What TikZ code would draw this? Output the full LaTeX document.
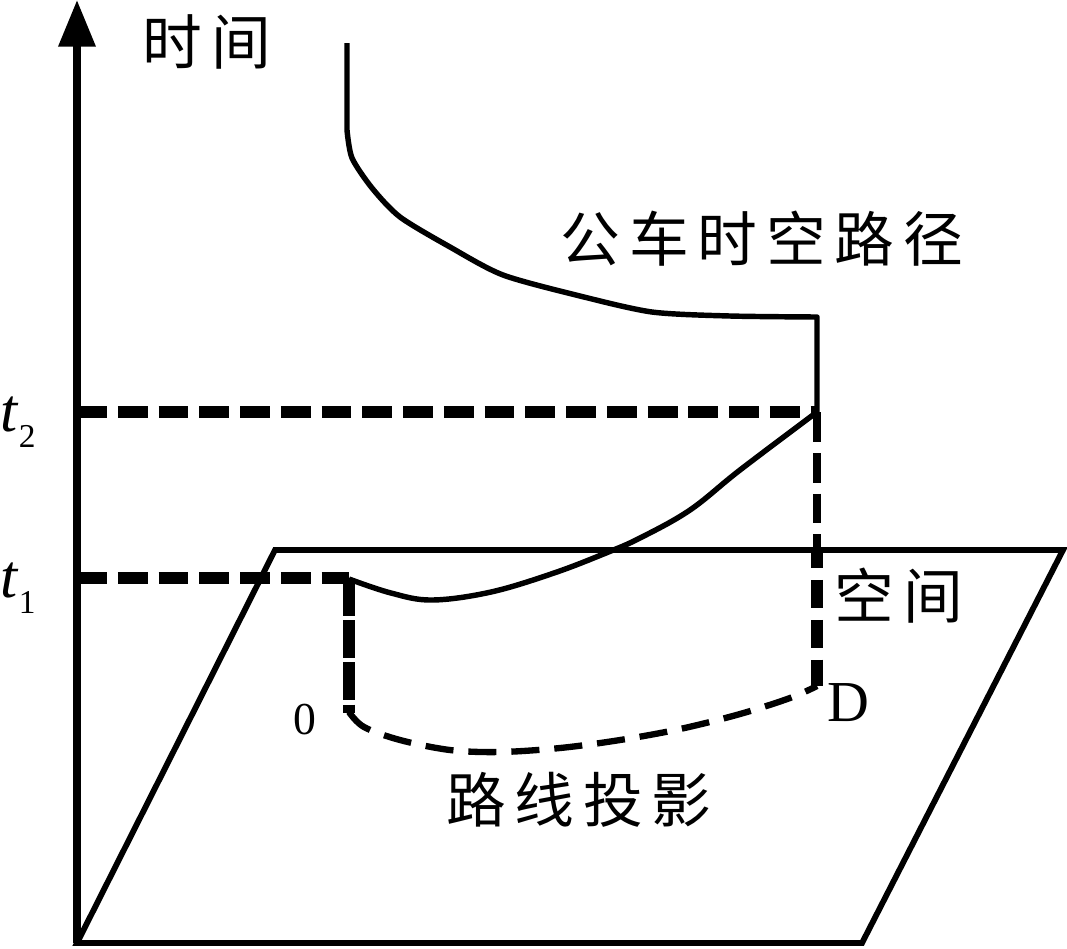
\documentclass[tikz,border=0pt]{standalone}
\usepackage{fontspec}
\setmainfont{Liberation Serif}
\newfontfamily\cjk{Noto Sans CJK SC}
\usetikzlibrary{arrows.meta}
\newcommand\gapk{\kern5pt}
\begin{document}
\begin{tikzpicture}[x=0.02cm,y=-0.02cm,
  axisline/.style={line width=4.3pt},
  planeline/.style={line width=3.3pt,line join=miter},
  pathline/.style={line width=3.1pt,line join=round},
  thickdash/.style={line width=6.3pt,dash pattern=on 17pt off 6.2pt},
  vdashthin/.style={line width=4.4pt,dash pattern=on 17pt off 6.2pt},
  vdashthick/.style={line width=6.8pt,dash pattern=on 15.9pt off 6.8pt,dash phase=6.8pt},
  leftvdash/.style={line width=6.8pt,dash pattern=on 21.5pt off 2.5pt},
  projdash/.style={line width=3.6pt,dash pattern=on 16pt off 8.5pt},
  cjklab/.style={inner sep=0pt,font=\cjk\fontsize{34pt}{36pt}\selectfont},
  latlab/.style={inner sep=0pt}]
\useasboundingbox (0,0) rectangle (1067,948);

% key points
\coordinate (O) at (77,943);
\coordinate (Top) at (77,0);
\coordinate (P2) at (862,943);
\coordinate (P3) at (1063,550);
\coordinate (P4) at (275,550);
\coordinate (T2a) at (77,412);
\coordinate (T1a) at (77,578);
\coordinate (S) at (349,578);
\coordinate (Sb) at (349,713);
\coordinate (E) at (817,412);
\coordinate (Ep) at (817,552);
\coordinate (Eb) at (817,686);

% plane
\draw[planeline] (O) -- (P2) -- (P3) -- (P4) -- cycle;

% time axis
\draw[axisline,-{Triangle[width=20.4pt,length=26.6pt]}] (O) -- (Top);

% bus space-time path (upper)
\draw[pathline] (347,43) -- (347,130)
  -- plot[smooth,tension=0.45] coordinates {(347,130) (352,158) (372,188) (400,217) (450,247) (503,275) (580,296) (652,312) (730,316) (817,317)}
  -- (E);

% lower space-time path
\draw[pathline] plot[smooth,tension=0.6] coordinates {(349,579) (391,593) (432,600) (491,592) (554,573) (606,553) (640,538) (690,510) (740,470) (817,412)};

% time levels
\draw[thickdash] (T2a) -- (E);
\draw[thickdash] (T1a) -- (S);

% verticals
\draw[leftvdash] (S) -- (Sb);
\draw[vdashthin] (E) -- (Ep);
\draw[vdashthick] (Ep) -- (Eb);

% route projection
\draw[projdash] plot[smooth,tension=0.55] coordinates {(349,712) (364,727) (400,740) (450,750) (500,752) (560,748) (620,740) (680,729) (740,714) (790,698) (817,686)};

% labels
\node[cjklab] (time) at (207,42) {时\gapk 间};
\node[cjklab] (buspath) at (762,239) {公\gapk 车\gapk 时\gapk 空\gapk 路\gapk 径};
\node[cjklab] (space) at (899,596) {空\gapk 间};
\node[cjklab] (proj) at (579,800) {路\gapk 线\gapk 投\gapk 影};
\node[latlab] (t2) at (18,422) {\fontsize{35pt}{36pt}\selectfont\itshape t\/\raisebox{-9pt}{\upshape\fontsize{19pt}{19pt}\selectfont 2}};
\node[latlab] (t1) at (18,588) {\fontsize{35pt}{36pt}\selectfont\itshape t\/\raisebox{-9pt}{\upshape\fontsize{19pt}{19pt}\selectfont 1}};
\node[latlab] (zero) at (305,720) {\fontsize{26pt}{28pt}\selectfont 0};
\node[latlab] (D) at (848,703) {\fontsize{33pt}{35pt}\selectfont D};
\end{tikzpicture}
\end{document}
